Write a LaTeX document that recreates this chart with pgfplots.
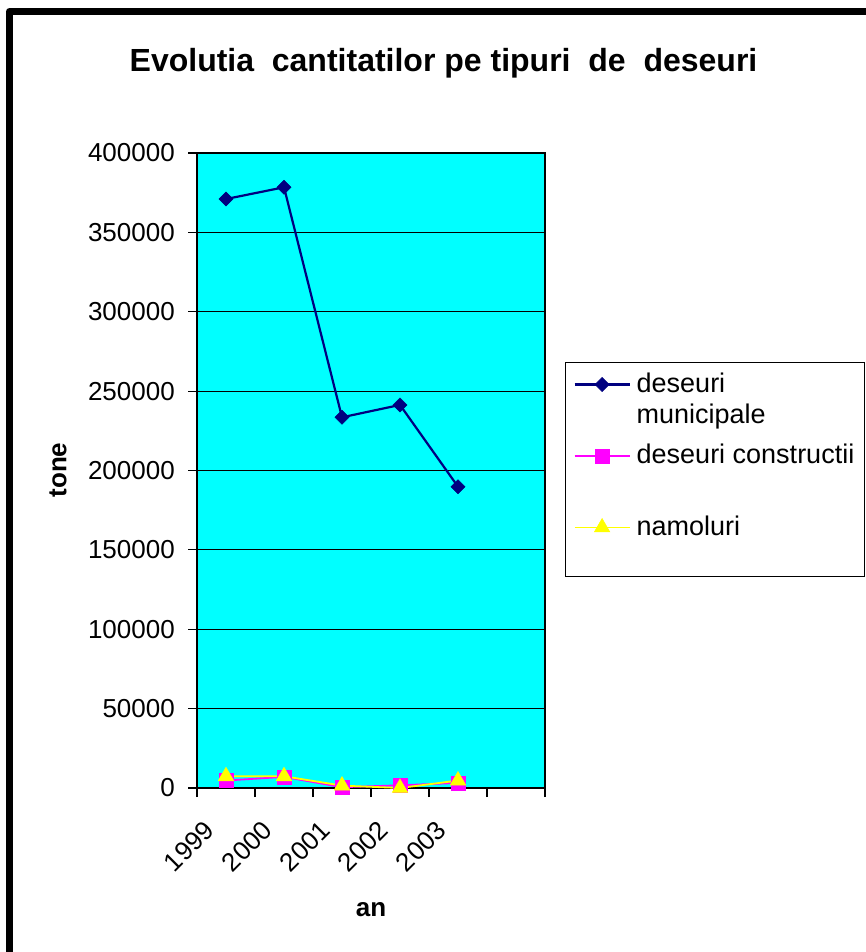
\documentclass[border=0pt]{standalone}
\usepackage{pgfplots}
\pgfplotsset{compat=1.18}
\usepackage{fontspec}
\setmainfont{Liberation Sans}
\definecolor{navyx}{RGB}{0,0,128}
\definecolor{magx}{RGB}{255,0,255}
\definecolor{yelx}{RGB}{255,255,0}
\definecolor{cyanx}{RGB}{0,255,255}
\begin{document}
\fontsize{26}{31}\selectfont
\begin{tikzpicture}[x=1pt,y=1pt]
\useasboundingbox (0,0) rectangle (865,952);
\fill[white] (0,0) rectangle (865,952);
\draw[line width=7pt, line join=round] (9.5,-20) -- (9.5,940.5) -- (890,940.5);
\node[anchor=base, font=\fontsize{32}{38}\selectfont\bfseries] at (443.5,880) {Evolutia\ \ cantitatilor pe tipuri\ \ de\ \ deseuri};
\node[rotate=90, font=\fontsize{26}{31}\selectfont\bfseries] at (58,482) {tone};
\node[font=\fontsize{26}{31}\selectfont\bfseries] at (371,42) {an};
\begin{axis}[
  at={(197pt,164pt)}, anchor=south west,
  scale only axis, width=348pt, height=635pt,
  xmin=0, xmax=6, ymin=0, ymax=400000,
  scaled y ticks=false,
  axis background/.style={fill=cyanx},
  axis line style={black, line width=1.2pt},
  tick style={black, line width=1.2pt},
  tick align=outside, major tick length=9pt,
  xtick={0,1,2,3,4,5,6}, xticklabels={,,,,,,},
  extra x ticks={0.5,1.5,2.5,3.5,4.5},
  extra x tick labels={1999,2000,2001,2002,2003},
  extra x tick style={major tick length=0pt, xticklabel style={xshift=-23pt, yshift=-31pt, rotate=45, anchor=north east, inner sep=0pt}},
  ytick={0,50000,100000,150000,200000,250000,300000,350000,400000},
  yticklabels={0,50000,100000,150000,200000,250000,300000,350000,400000},
  yticklabel style={anchor=east, inner sep=0pt, xshift=-13pt},
  xtick pos=bottom, ytick pos=left,
  ymajorgrids, grid style={black, line width=1pt},
  ticklabel style={font=\fontsize{26}{31}\selectfont},
  clip=false,
  legend cell align=left,
  legend style={at={(1.0575,0.6709)}, anchor=north west, draw=black, line width=1pt, fill=white,
    inner xsep=8pt, inner ysep=0pt, row sep=0pt, column sep=6pt,
    font=\fontsize{27}{31}\selectfont,
    nodes={inner sep=0pt, text height=30pt, text depth=41.5pt}, cells={anchor=base west}},
  legend image code/.code={
    \draw[#1, mark=none] (0pt,8pt) -- (55pt,8pt);
    \draw[#1, only marks] plot coordinates {(27.5pt,8pt)};
  },
]
\addplot[navyx, line width=2.2pt, mark=square*, mark size=5pt, mark options={rotate=45, fill=navyx, draw=navyx, line width=0.5pt}]
  coordinates {(0.5,371000) (1.5,378400) (2.5,233500) (3.5,241300) (4.5,189800)};
\addlegendentry{\smash{\parbox[t]{220pt}{deseuri\\municipale}}}
\addplot[magx, line width=1.8pt, mark=square*, mark size=7pt, mark options={fill=magx, draw=magx, line width=0.5pt}]
  coordinates {(0.5,4700) (1.5,7000) (2.5,500) (3.5,1700) (4.5,3200)};
\addlegendentry{\makebox[220pt][l]{deseuri constructii}}
\addplot[yelx, line width=1.8pt, mark=triangle*, mark size=9pt, mark options={fill=yelx, draw=yelx, line width=0.5pt}]
  coordinates {(0.5,7400) (1.5,7400) (2.5,1500) (3.5,0) (4.5,4700)};
\addlegendentry{\makebox[220pt][l]{namoluri}}
\end{axis}
\end{tikzpicture}
\end{document}
